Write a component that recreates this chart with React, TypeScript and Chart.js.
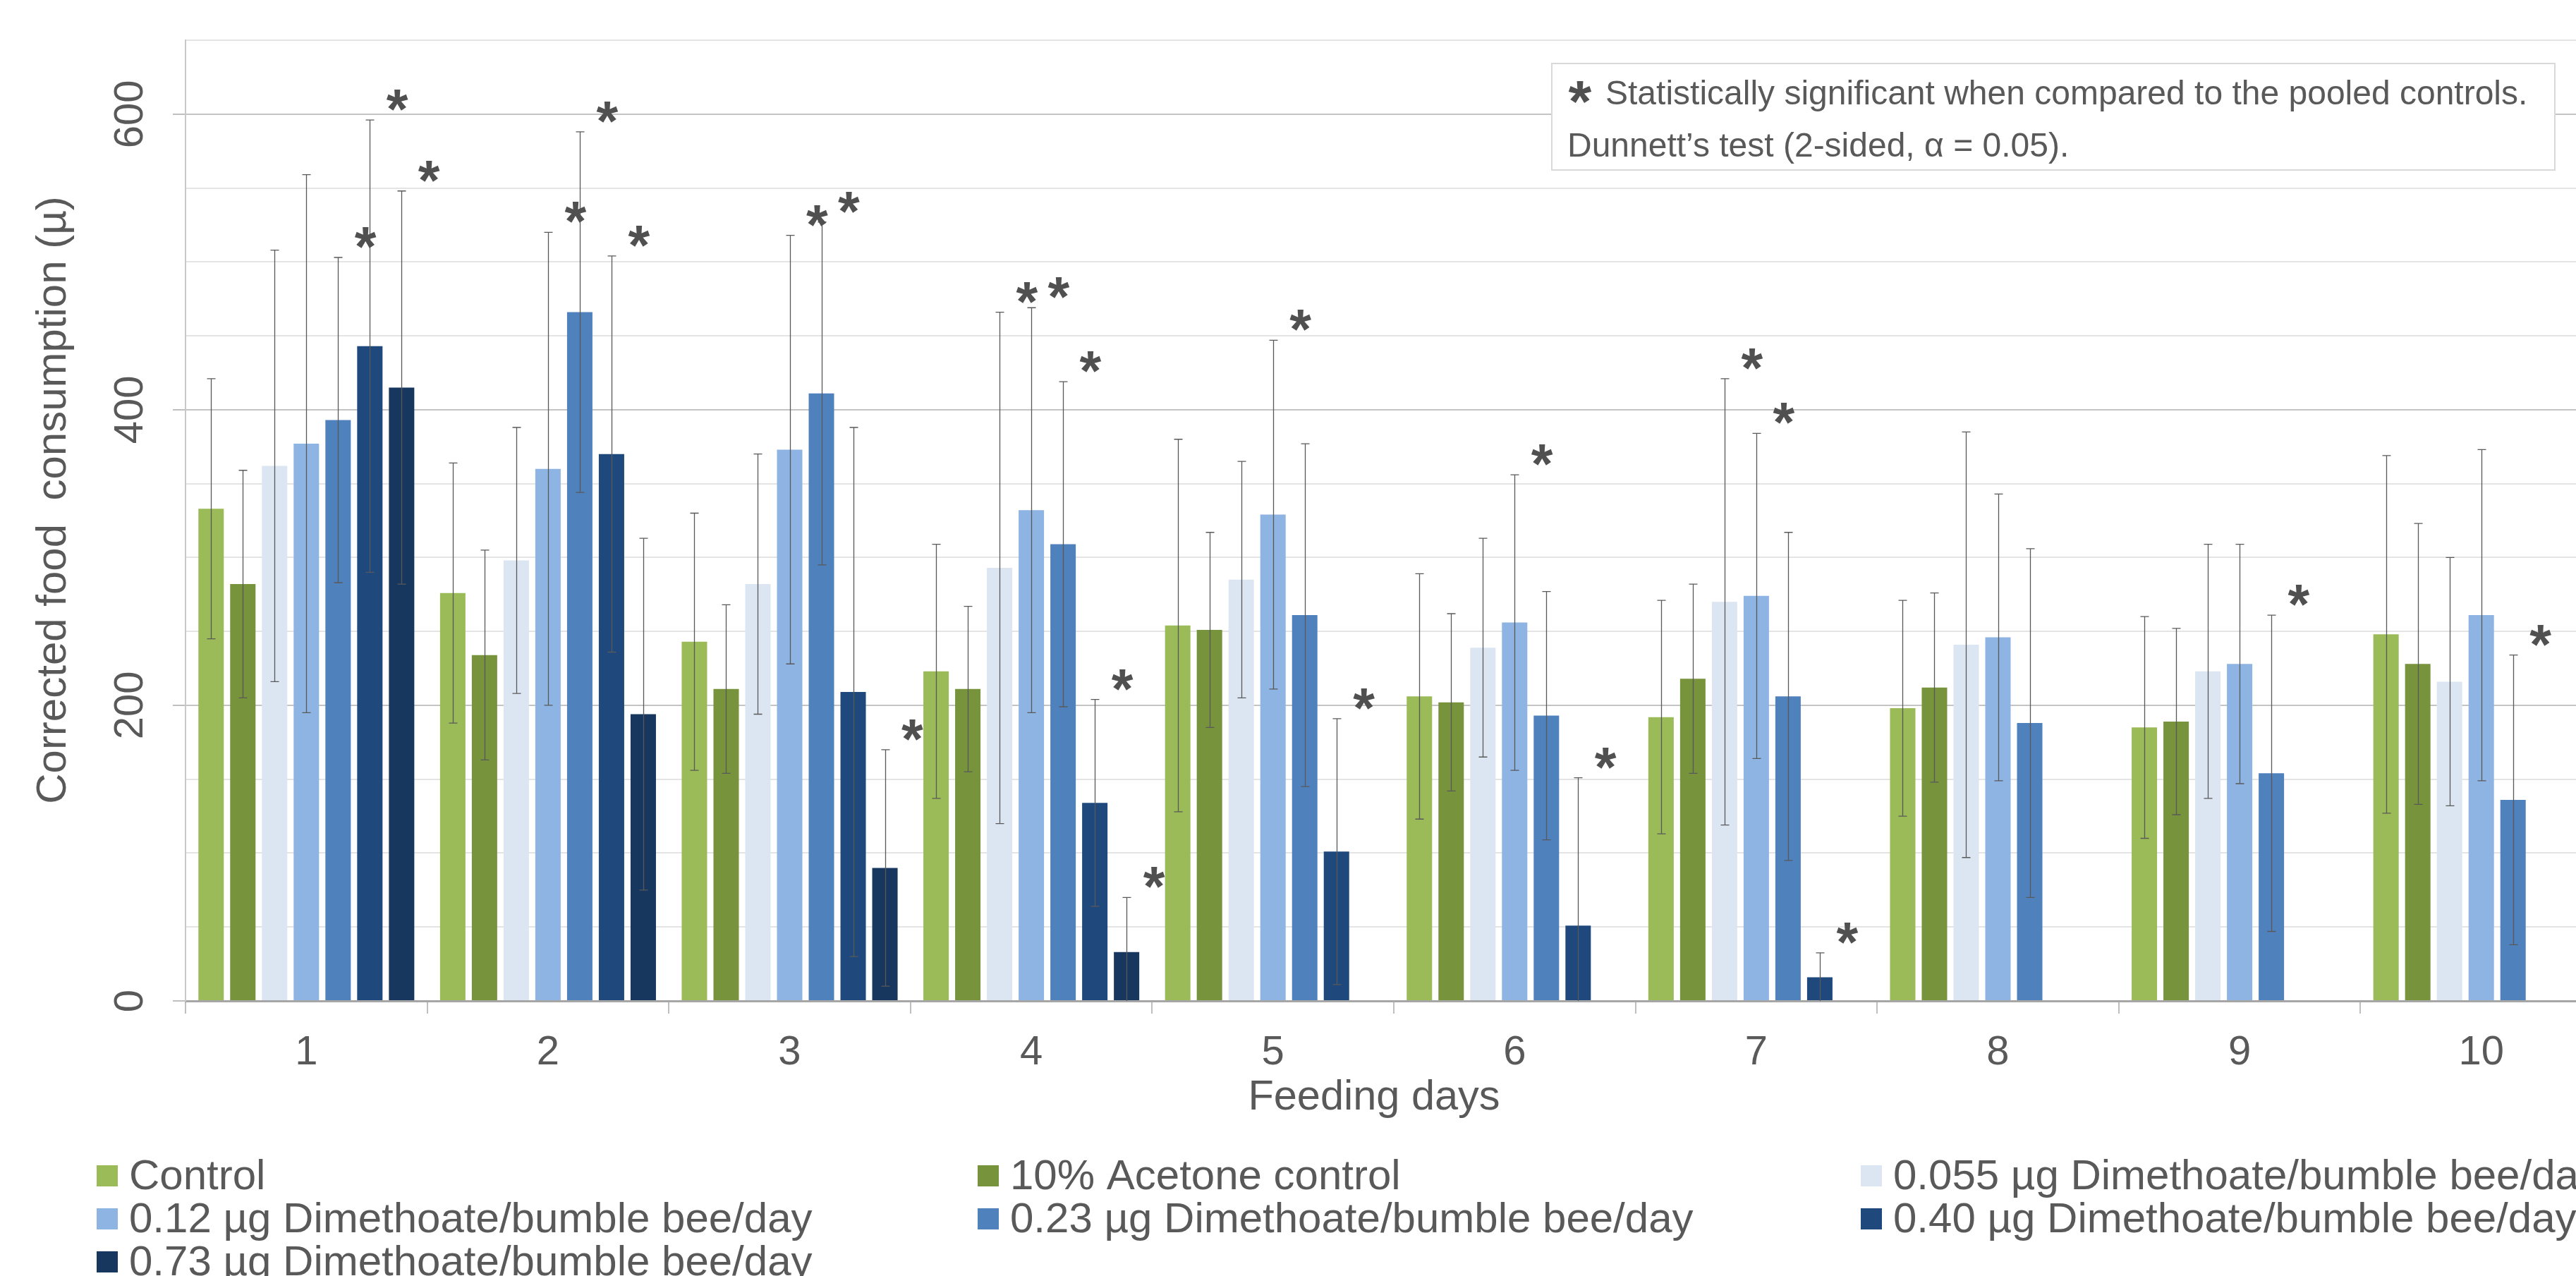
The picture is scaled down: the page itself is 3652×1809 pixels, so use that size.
import React, { useEffect, useRef } from "react";
import { Chart, registerables } from "chart.js";

Chart.register(...registerables);

// ---------- data ----------
const days = ["1", "2", "3", "4", "5", "6", "7", "8", "9", "10"];

const seriesLabels = [
  "Control",
  "10% Acetone control",
  "0.055 µg Dimethoate/bumble bee/day",
  "0.12 µg Dimethoate/bumble bee/day",
  "0.23 µg Dimethoate/bumble bee/day",
  "0.40 µg Dimethoate/bumble bee/day",
  "0.73 µg Dimethoate/bumble bee/day",
];

const controlMean = [333, 276, 243, 223, 254, 206, 192, 198, 185, 248];
const controlSd = [88, 88, 87, 86, 126, 83, 79, 73, 75, 121];
const acetoneMean = [282, 234, 211, 211, 251, 202, 218, 212, 189, 228];
const acetoneSd = [77, 71, 57, 56, 66, 60, 64, 64, 63, 95];
const dose055Mean = [362, 298, 282, 293, 285, 239, 270, 241, 223, 216];
const dose055Sd = [146, 90, 88, 173, 80, 74, 151, 144, 86, 84];
const dose012Mean = [377, 360, 373, 332, 329, 256, 274, 246, 228, 261];
const dose012Sd = [182, 160, 145, 137, 118, 100, 110, 97, 81, 112];
const dose023Mean = [393, 466, 411, 309, 261, 193, 206, 188, 154, 136];
const dose023Sd = [110, 122, 116, 110, 116, 84, 111, 118, 107, 98];
const dose040Mean = [443, 370, 209, 134, 101, 51, 16, null, null, null];
const dose040Sd = [153, 134, 179, 70, 90, 100, 16.5, null, null, null];
const dose073Mean = [415, 194, 90, 33, null, null, null, null, null, null];
const dose073Sd = [133, 119, 80, 37, null, null, null, null, null, null];

// significance flags (1 = significant vs pooled controls)
const sigControl = [0, 0, 0, 0, 0, 0, 0, 0, 0, 0];
const sigAcetone = [0, 0, 0, 0, 0, 0, 0, 0, 0, 0];
const sig055 = [0, 0, 0, 1, 0, 0, 1, 0, 0, 0];
const sig012 = [0, 1, 1, 1, 1, 1, 1, 0, 0, 0];
const sig023 = [1, 1, 1, 1, 0, 0, 0, 0, 1, 1];
const sig040 = [1, 1, 0, 1, 1, 1, 1, 0, 0, 0];
const sig073 = [1, 0, 1, 1, 0, 0, 0, 0, 0, 0];

const yMin = 0;
const yMax = 650;
const yStep = 50;
const yLabelValues = [0, 200, 400, 600];

const yTitle = "Corrected food  consumption (µ)";
const xTitle = "Feeding days";
const noteLine1 = "Statistically significant when compared to the pooled controls.";
const noteLine2 = "Dunnett’s test (2-sided, α = 0.05).";

// ---------- styles ----------
const seriesColors = ["#9BBB59", "#77933C", "#DCE6F2", "#8EB4E3", "#4F81BD", "#1F497D", "#17375E"];
const FONT = '"Liberation Sans", Arial, Helvetica, sans-serif';
const TEXT_COLOR = "#595959";

const means = [controlMean, acetoneMean, dose055Mean, dose012Mean, dose023Mean, dose040Mean, dose073Mean];
const sds = [controlSd, acetoneSd, dose055Sd, dose012Sd, dose023Sd, dose040Sd, dose073Sd];
const sigs = [sigControl, sigAcetone, sig055, sig012, sig023, sig040, sig073];

const CANVAS_W = 3760;
const CANVAS_H = 1809;

function drawAsterisk(ctx: CanvasRenderingContext2D, cx: number, cy: number, h: number) {
  ctx.save();
  ctx.font = `bold 100px ${FONT}`;
  ctx.textAlign = "left";
  ctx.textBaseline = "alphabetic";
  const m = ctx.measureText("*");
  const gh = m.actualBoundingBoxAscent + m.actualBoundingBoxDescent;
  const size = (100 * h) / gh;
  ctx.font = `bold ${size}px ${FONT}`;
  const m2 = ctx.measureText("*");
  const x = cx - (m2.actualBoundingBoxRight - m2.actualBoundingBoxLeft) / 2;
  const y = cy + (m2.actualBoundingBoxAscent - m2.actualBoundingBoxDescent) / 2;
  ctx.fillStyle = "#505050";
  ctx.fillText("*", x, y);
  ctx.restore();
}

function drawRotated(ctx: CanvasRenderingContext2D, text: string, baselineX: number, centerY: number, font: string) {
  ctx.save();
  ctx.translate(baselineX, centerY);
  ctx.rotate(-Math.PI / 2);
  ctx.font = font;
  ctx.fillStyle = TEXT_COLOR;
  ctx.textAlign = "center";
  ctx.textBaseline = "alphabetic";
  ctx.fillText(text, 0, 0);
  ctx.restore();
}

const overlayPlugin = {
  id: "overlay",
  afterDatasetsDraw(chart: any) {
    const ctx: CanvasRenderingContext2D = chart.ctx;
    const yScale = chart.scales.y;
    const area = chart.chartArea;
    // error bars
    ctx.save();
    ctx.beginPath();
    ctx.rect(area.left, 0, area.right - area.left, area.bottom);
    ctx.clip();
    ctx.strokeStyle = "#595959";
    ctx.lineWidth = 1.3;
    chart.data.datasets.forEach((ds: any, di: number) => {
      const meta = chart.getDatasetMeta(di);
      meta.data.forEach((bar: any, i: number) => {
        const v = means[di][i];
        const sd = sds[di][i];
        if (v == null || sd == null) return;
        const x = Math.round(bar.x) + 0.5;
        const yt = yScale.getPixelForValue(v + sd);
        const yb = yScale.getPixelForValue(v - sd);
        ctx.beginPath();
        ctx.moveTo(x, yt);
        ctx.lineTo(x, yb);
        ctx.moveTo(x - 6, yt);
        ctx.lineTo(x + 6, yt);
        ctx.moveTo(x - 6, yb);
        ctx.lineTo(x + 6, yb);
        ctx.stroke();
      });
    });
    ctx.restore();
    // significance asterisks
    chart.data.datasets.forEach((ds: any, di: number) => {
      const meta = chart.getDatasetMeta(di);
      meta.data.forEach((bar: any, i: number) => {
        if (!sigs[di][i]) return;
        const v = means[di][i];
        const sd = sds[di][i];
        if (v == null || sd == null) return;
        const yt = yScale.getPixelForValue(v + sd);
        drawAsterisk(ctx, bar.x + 39, yt - 28, 30);
      });
    });
  },
  afterDraw(chart: any) {
    const ctx: CanvasRenderingContext2D = chart.ctx;
    const yScale = chart.scales.y;
    const xScale = chart.scales.x;
    ctx.save();
    ctx.fillStyle = TEXT_COLOR;
    // y tick labels (rotated)
    yLabelValues.forEach((v) => {
      drawRotated(ctx, String(v), 201.5, yScale.getPixelForValue(v), `58px ${FONT}`);
    });
    // y title
    drawRotated(ctx, yTitle, 93, 709, `60px ${FONT}`);
    // x tick labels
    ctx.font = `58px ${FONT}`;
    ctx.textAlign = "center";
    ctx.textBaseline = "alphabetic";
    ctx.fillStyle = TEXT_COLOR;
    days.forEach((d, i) => {
      ctx.fillText(d, xScale.getPixelForValue(i), 1509);
    });
    // x title
    ctx.font = `59.5px ${FONT}`;
    ctx.fillText(xTitle, 1948, 1573);

    // legend (3 columns)
    const colX = [137, 1386, 2638];
    const rowY = [1667, 1728, 1789];
    ctx.font = `60px ${FONT}`;
    ctx.textAlign = "left";
    seriesLabels.forEach((lab, i) => {
      const c = i % 3;
      const r = Math.floor(i / 3);
      ctx.fillStyle = seriesColors[i];
      ctx.fillRect(colX[c], rowY[r] - 15, 30, 30);
      ctx.fillStyle = TEXT_COLOR;
      ctx.fillText(lab, colX[c] + 46, rowY[r] + 19);
    });

    // note box
    const bx = 2200, by = 90, bw = 1422, bh = 151;
    ctx.fillStyle = "#ffffff";
    ctx.fillRect(bx, by, bw, bh);
    ctx.strokeStyle = "#d9d9d9";
    ctx.lineWidth = 2;
    ctx.strokeRect(bx, by, bw, bh);
    drawAsterisk(ctx, 2240, 131, 32);
    ctx.font = `48px ${FONT}`;
    ctx.fillStyle = TEXT_COLOR;
    ctx.textAlign = "left";
    ctx.fillText(noteLine1, 2276, 148);
    ctx.fillText(noteLine2, 2222, 222);
    ctx.restore();
  },
};

export default function App() {
  const canvasRef = useRef<HTMLCanvasElement | null>(null);

  useEffect(() => {
    const canvas = canvasRef.current;
    if (!canvas) return;
    Chart.defaults.font.family = FONT;
    const chart = new Chart(canvas, {
      type: "bar",
      data: {
        labels: days,
        datasets: seriesLabels.map((label, i) => ({
          label,
          data: means[i] as any,
          backgroundColor: seriesColors[i],
          borderWidth: 0,
          categoryPercentage: 0.9197,
          barPercentage: 0.8,
        })),
      },
      options: {
        responsive: false,
        maintainAspectRatio: false,
        devicePixelRatio: 1,
        animation: false,
        layout: { padding: { left: 0, right: CANVAS_W - 3689, top: 57, bottom: 0 } },
        plugins: {
          legend: { display: false },
          tooltip: { enabled: false },
          title: { display: false },
        },
        scales: {
          x: {
            type: "category",
            offset: true,
            grid: {
              offset: true,
              drawOnChartArea: false,
              drawTicks: true,
              tickLength: 18,
              color: "#bfbfbf",
              lineWidth: 2,
            },
            border: { display: true, color: "#a6a6a6", width: 3 },
            ticks: { display: false },
            afterFit: (s: any) => {
              s.height = CANVAS_H - 1419;
            },
          },
          y: {
            type: "linear",
            min: yMin,
            max: yMax,
            ticks: { display: false, stepSize: yStep },
            grid: {
              drawTicks: true,
              tickLength: 18,
              lineWidth: 2,
              color: (c: any) => (c.tick && c.tick.value % 200 === 0 ? "#c4c4c4" : "#e4e4e4"),
              tickColor: (c: any) => (c.tick && c.tick.value % 200 === 0 ? "#bfbfbf" : "rgba(0,0,0,0)"),
            },
            border: { display: true, color: "#c8c8c8", width: 2 },
            afterFit: (s: any) => {
              s.width = 263;
            },
          },
        },
      },
      plugins: [overlayPlugin],
    } as any);
    return () => chart.destroy();
  }, []);

  return (
    <div
      style={{
        position: "fixed",
        left: 0,
        top: 0,
        width: "3652px",
        height: "1809px",
        overflow: "hidden",
        background: "#ffffff",
      }}
    >
      <canvas
        ref={canvasRef}
        width={CANVAS_W}
        height={CANVAS_H}
        style={{ width: CANVAS_W + "px", height: CANVAS_H + "px", display: "block" }}
      />
    </div>
  );
}
